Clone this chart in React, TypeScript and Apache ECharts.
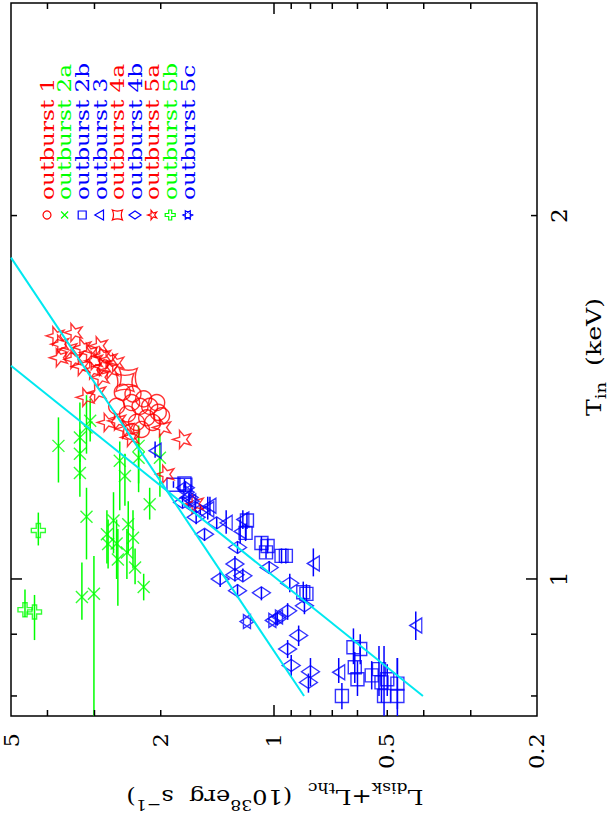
import React, { useEffect, useRef } from "react";
import * as echarts from "echarts";

// ---------- axes ----------
const L_RANGE = [0.2, 5]; // L_disk+L_thc (1e38 erg/s), horizontal, decreasing to the right
const T_RANGE = [0.77, 3]; // T_in (keV), vertical
const L_MINOR_TICKS = [0.3, 0.4, 0.5, 0.6, 0.7, 0.8, 0.9, 2, 3, 4];
const L_MAJOR_TICKS = [1];
const L_TICK_LABELS = [5, 2, 1, 0.5, 0.2];
const T_MINOR_TICKS = [0.8, 0.9, 2];
const T_MAJOR_TICKS = [1];
const T_TICK_LABELS = [1, 2];

// ---------- data: [L, T_in] ----------
const OB1 = [
  [2.53, 1.428], [2.37, 1.423], [2.22, 1.41], [2.39, 1.4], [2.27, 1.39], [2.14, 1.39],
  [2.03, 1.374], [1.99, 1.365], [2.18, 1.36], [2.32, 1.348], [2.1, 1.348], [2.25, 1.33],
  [2.39, 1.325], [2.62, 1.39], [2.45, 1.37], [2.05, 1.4],
];
const OB2A = [
  [3.74, 1.289], [3.28, 1.31], [3.28, 1.27], [3.28, 1.224], [3.15, 1.335], [3.08, 1.352],
  [2.57, 1.253], [2.49, 1.217], [2.29, 1.289], [2.29, 1.26], [2.14, 1.153], [2.01, 1.26],
  [3.15, 1.126], [2.78, 1.089], [2.76, 1.069], [2.6, 1.038], [2.46, 1.052], [2.37, 1.082],
  [2.34, 1.022], [2.22, 0.985], [3.24, 0.966], [3.01, 0.972], [2.67, 1.118], [2.44, 1.11],
  [2.62, 1.07],
];
const OB2A_ERR = [
  [1.202, 1.361], [1.25, 1.4], [1.21, 1.33], [1.17, 1.28], [1.27, 1.42], [1.3, 1.41],
  [1.14, 1.3], [1.15, 1.27], [1.2, 1.34], [1.18, 1.32], [1.12, 1.19], [1.17, 1.32],
  [1.038, 1.19], [1.03, 1.14], [1.02, 1.12], [0.95, 1.1], [1.0, 1.1], [1.02, 1.14],
  [0.99, 1.06], [0.96, 1.01], [0.925, 1.032], [0.7, 1.045], [1.05, 1.18], [1.05, 1.16],
  [1.0, 1.12],
];
const OB2B = [
  [1.73, 1.2], [1.85, 1.197], [1.72, 1.197], [1.18, 1.118], [1.19, 1.092], [1.08, 1.071],
  [1.04, 1.065], [1.05, 1.052], [0.955, 1.045], [0.93, 1.045], [0.836, 0.975], [0.82, 0.972],
  [0.615, 0.878], [0.59, 0.875], [0.61, 0.845], [0.6, 0.826], [0.55, 0.832], [0.526, 0.842],
  [0.518, 0.821], [0.5, 0.826], [0.47, 0.819], [0.51, 0.8], [0.47, 0.8], [0.66, 0.8],
];
const OB2B_ERR = [
  [1.19, 1.21], [1.19, 1.205], [1.19, 1.205], [1.1, 1.135], [1.075, 1.11], [1.055, 1.085],
  [1.05, 1.08], [1.04, 1.065], [1.03, 1.06], [1.03, 1.06], [0.955, 0.995], [0.955, 0.99],
  [0.85, 0.91], [0.85, 0.9], [0.82, 0.87], [0.8, 0.855], [0.81, 0.855], [0.8, 0.88],
  [0.79, 0.85], [0.8, 0.85], [0.78, 0.86], [0.7, 0.88], [0.7, 0.86], [0.78, 0.82],
];
const OB3 = [
  [2.07, 1.277], [1.5, 1.142], [1.34, 1.113], [1.21, 1.12], [1.23, 1.095], [0.786, 1.03],
  [0.673, 0.837], [0.42, 0.915], [1.48, 1.15],
];
const OB3_ERR = [
  [1.26, 1.3], [1.12, 1.17], [1.09, 1.14], [1.1, 1.14], [1.07, 1.12], [1.005, 1.06],
  [0.82, 0.86], [0.89, 0.94], [1.13, 1.17],
];
const OB4A = [[2.44, 1.469], [2.49, 1.455]];
const OB4B = [
  [1.75, 1.157], [1.62, 1.146], [1.57, 1.139], [1.72, 1.19], [1.68, 1.168], [1.61, 1.125],
  [1.53, 1.089], [1.42, 1.113], [1.25, 1.062], [1.27, 1.029], [1.03, 1.022], [1.39, 1.0],
  [1.27, 1.008], [1.21, 1.006], [1.25, 0.978], [1.08, 0.974], [0.908, 0.992], [0.83, 0.95],
  [0.92, 0.941], [0.98, 0.927], [0.86, 0.898], [0.92, 0.875], [0.9, 0.848], [0.8, 0.838],
  [0.81, 0.821],
];
const OB4B_ERR = [
  [1.145, 1.17], [1.135, 1.16], [1.13, 1.15], [1.18, 1.2], [1.155, 1.18], [1.11, 1.14],
  [1.075, 1.1], [1.1, 1.125], [1.05, 1.075], [1.015, 1.045], [1.01, 1.035], [0.985, 1.015],
  [0.995, 1.02], [0.995, 1.02], [0.965, 0.99], [0.96, 0.985], [0.975, 1.01], [0.935, 0.965],
  [0.925, 0.955], [0.915, 0.94], [0.88, 0.915], [0.86, 0.89], [0.83, 0.865], [0.815, 0.86],
  [0.805, 0.835],
];
const OB5A = [
  [3.82, 1.59], [3.42, 1.6], [3.71, 1.565], [3.53, 1.55], [3.74, 1.525], [3.42, 1.52],
  [3.24, 1.555], [3.11, 1.54], [2.93, 1.56], [3.02, 1.516], [2.87, 1.53], [2.76, 1.52],
  [2.65, 1.51], [3.27, 1.5], [3.05, 1.49], [2.87, 1.5], [2.74, 1.49], [2.9, 1.469],
  [3.18, 1.414], [2.96, 1.427], [2.79, 1.348], [2.62, 1.352], [2.49, 1.331], [2.42, 1.31],
  [1.99, 1.335], [1.76, 1.305], [1.95, 1.221], [1.63, 1.154],
];
const OB5B = [[4.23, 1.097], [4.59, 0.943], [4.33, 0.939]];
const OB5B_ERR = [[1.066, 1.135], [0.93, 0.98], [0.89, 0.97]];
const OB5C = [[1.7, 1.18], [1.18, 0.922], [1.01, 0.924], [0.97, 0.93], [1.65, 1.16]];

// fitted relations (end points)
const FIT_A = [[5, 1.846], [0.832, 0.8]];
const FIT_B = [[5, 1.502], [0.402, 0.8]];

const LEGEND_NAMES = [
  "outburst 1", "outburst 2a", "outburst 2b", "outburst 3", "outburst 4a",
  "outburst 4b", "outburst 5a", "outburst 5b", "outburst 5c",
];
const RED = "#ff0000";
const GREEN = "#00ff00";
const BLUE = "#0000ff";
const CYAN = "#00e8f0";
const LEGEND_COLORS = [RED, GREEN, BLUE, BLUE, RED, BLUE, RED, GREEN, BLUE];
const LEGEND_KINDS = ["circle", "x", "rect", "tri", "concave", "diamond", "star", "cross", "hex"];

const PATHS: Record<string, string> = {
  x: "M0,0 L100,100 M100,0 L0,100",
  tri: "M0,50 L87,0 L87,100 Z",
  concave: "M0,0 Q50,22 100,0 Q78,50 100,100 Q50,78 0,100 Q22,50 0,0 Z",
  star: "M0,50 L35.4,38.2 L34.5,2.4 L56.9,31 L90.5,20.6 L70.5,50 L90.5,79.4 L56.9,69 L34.5,97.6 L35.4,61.8 Z",
  cross: "M35,0 L65,0 L65,35 L100,35 L100,65 L65,65 L65,100 L35,100 L35,65 L0,65 L0,35 L35,35 Z",
  hex: "M0,50 L75,6.7 L75,93.3 Z M100,50 L25,93.3 L25,6.7 Z",
};
Object.keys(PATHS).forEach((k) => {
  try {
    echarts.graphic.registerShape("sym_" + k, echarts.graphic.extendPath(PATHS[k], {}));
  } catch (e) {}
});

const FONT = '"DejaVu Serif", serif';

function legendSymbol(kind: string, cx: number, cy: number, color: string) {
  const st = { fill: "none", stroke: color, lineWidth: 1.2 };
  if (kind === "circle") return { type: "circle", shape: { cx, cy, r: 4 }, style: st };
  if (kind === "rect") return { type: "rect", shape: { x: cx - 4, y: cy - 4, width: 8, height: 8 }, style: st };
  if (kind === "diamond")
    return { type: "polygon", shape: { points: [[cx - 6, cy], [cx, cy - 4], [cx + 6, cy], [cx, cy + 4]] }, style: st };
  const size = kind === "x" ? 7 : 10;
  const s = size / 100;
  return {
    type: "sym_" + kind,
    x: cx - size / 2,
    y: cy - size / 2,
    scaleX: s,
    scaleY: s,
    style: { ...st, strokeNoScale: true },
  };
}

function scatter(data: number[][], symbol: any, size: any, color: string, z = 4) {
  return {
    type: "scatter",
    data,
    symbol,
    symbolSize: size,
    silent: true,
    z,
    itemStyle: { color: "rgba(0,0,0,0)", borderColor: color, borderWidth: 1.4 },
  };
}

function errBars(data: number[][], errs: number[][], color: string) {
  return {
    type: "custom",
    coordinateSystem: "cartesian2d",
    silent: true,
    z: 3,
    data: data.map((p, i) => [p[0], p[1], errs[i][0], errs[i][1]]),
    encode: { x: 0, y: 1 },
    renderItem: (_p: any, api: any) => {
      const L = api.value(0);
      const lo = Math.max(api.value(2), T_RANGE[0]);
      const hi = Math.min(api.value(3), T_RANGE[1]);
      const a = api.coord([L, lo]);
      const b = api.coord([L, hi]);
      return {
        type: "line",
        shape: { x1: a[0], y1: a[1], x2: b[0], y2: b[1] },
        style: { stroke: color, lineWidth: 1.5 },
      };
    },
  };
}

const TICK_STYLE = { stroke: "#000", lineWidth: 1.5 };

export default function App() {
  const ref = useRef<HTMLDivElement>(null);
  useEffect(() => {
    document.body.style.margin = "0";
    const chart = echarts.init(ref.current!, null, { renderer: "svg" });

    const lTicks = [
      ...L_MINOR_TICKS.map((v) => [v, T_RANGE[0], 0]),
      ...L_MAJOR_TICKS.map((v) => [v, T_RANGE[0], 1]),
    ];
    const tTicks = [
      ...T_MINOR_TICKS.map((v) => [L_RANGE[1], v, 0]),
      ...T_MAJOR_TICKS.map((v) => [L_RANGE[1], v, 1]),
    ];

    const legendGraphics: any[] = [];
    LEGEND_NAMES.forEach((name, i) => {
      const cx = 47 + i * 17.6;
      legendGraphics.push({
        type: "text",
        x: cx,
        y: 200,
        rotation: Math.PI / 2,
        scaleX: 1.22,
        style: {
          text: name,
          font: `19px ${FONT}`,
          fill: LEGEND_COLORS[i],
          align: "left",
          verticalAlign: "middle",
        },
      });
      legendGraphics.push(legendSymbol(LEGEND_KINDS[i], cx, 215, LEGEND_COLORS[i]));
    });

    const option: any = {
      animation: false,
      backgroundColor: "#ffffff",
      grid: {
        left: 11,
        top: 3,
        width: 526,
        height: 713,
        show: true,
        borderColor: "#000",
        borderWidth: 1.5,
        backgroundColor: "transparent",
      },
      xAxis: {
        type: "log",
        min: L_RANGE[0],
        max: L_RANGE[1],
        inverse: true,
        axisLine: { show: false },
        axisTick: { show: false },
        axisLabel: { show: false },
        splitLine: { show: false },
      },
      yAxis: {
        type: "log",
        min: T_RANGE[0],
        max: T_RANGE[1],
        axisLine: { show: false },
        axisTick: { show: false },
        axisLabel: { show: false },
        splitLine: { show: false },
      },
      graphic: [
        ...legendGraphics,
        {
          type: "text",
          x: 275,
          y: 797,
          rotation: Math.PI,
          scaleX: 1.15,
          style: {
            text: "{m|L}{sub|disk}{m|+L}{sub|thc}{m|  (10}{sup|38}{m|erg  s}{sup|−1}{m|)}",
            align: "center",
            verticalAlign: "middle",
            fill: "#000",
            rich: {
              m: { font: `21px ${FONT}`, lineHeight: 32, verticalAlign: "middle", fill: "#000" },
              sub: { font: `15px ${FONT}`, lineHeight: 15, verticalAlign: "bottom", fill: "#000" },
              sup: { font: `15px ${FONT}`, lineHeight: 15, verticalAlign: "top", fill: "#000" },
            },
          },
        },
        {
          type: "text",
          x: 577,
          y: 357,
          rotation: Math.PI / 2,
          scaleX: 1.2,
          style: {
            text: "{m|T}{sub|in}{m|  (keV)}",
            align: "center",
            verticalAlign: "top",
            fill: "#000",
            rich: {
              m: { font: `21px ${FONT}`, lineHeight: 32, verticalAlign: "middle", fill: "#000" },
              sub: { font: `15px ${FONT}`, lineHeight: 15, verticalAlign: "bottom", fill: "#000" },
            },
          },
        },
      ],
      series: [
        // ticks on the L axis (bottom & top)
        {
          type: "custom",
          coordinateSystem: "cartesian2d",
          silent: true,
          z: 10,
          data: lTicks,
          encode: { x: 0, y: 1 },
          renderItem: (_p: any, api: any) => {
            const v = api.value(0);
            const len = api.value(2) ? 11 : 6;
            const b = api.coord([v, T_RANGE[0]]);
            const t = api.coord([v, T_RANGE[1]]);
            return {
              type: "group",
              children: [
                { type: "line", shape: { x1: b[0], y1: b[1], x2: b[0], y2: b[1] - len }, style: TICK_STYLE },
                { type: "line", shape: { x1: t[0], y1: t[1], x2: t[0], y2: t[1] + len }, style: TICK_STYLE },
              ],
            };
          },
        },
        // ticks on the T axis (left & right)
        {
          type: "custom",
          coordinateSystem: "cartesian2d",
          silent: true,
          z: 10,
          data: tTicks,
          encode: { x: 0, y: 1 },
          renderItem: (_p: any, api: any) => {
            const v = api.value(1);
            const len = api.value(2) ? 11 : 6;
            const l = api.coord([L_RANGE[1], v]);
            const r = api.coord([L_RANGE[0], v]);
            return {
              type: "group",
              children: [
                { type: "line", shape: { x1: l[0], y1: l[1], x2: l[0] + len, y2: l[1] }, style: TICK_STYLE },
                { type: "line", shape: { x1: r[0], y1: r[1], x2: r[0] - len, y2: r[1] }, style: TICK_STYLE },
              ],
            };
          },
        },
        // L tick labels
        {
          type: "custom",
          coordinateSystem: "cartesian2d",
          silent: true,
          z: 10,
          data: L_TICK_LABELS.map((v) => [v, T_RANGE[0]]),
          encode: { x: 0, y: 1 },
          renderItem: (_p: any, api: any) => {
            const v = api.value(0);
            const b = api.coord([v, T_RANGE[0]]);
            return {
              type: "text",
              x: Math.max(b[0], 12),
              y: b[1] + 17,
              rotation: Math.PI / 2,
              scaleX: 1.08,
              style: {
                text: String(v),
                font: `21px ${FONT}`,
                lineHeight: 18,
                fill: "#000",
                align: "right",
                verticalAlign: "middle",
              },
            };
          },
        },
        // T tick labels
        {
          type: "custom",
          coordinateSystem: "cartesian2d",
          silent: true,
          z: 10,
          data: T_TICK_LABELS.map((v) => [L_RANGE[0], v]),
          encode: { x: 0, y: 1 },
          renderItem: (_p: any, api: any) => {
            const v = api.value(1);
            const r = api.coord([L_RANGE[0], v]);
            return {
              type: "text",
              x: r[0] + 11,
              y: r[1],
              rotation: Math.PI / 2,
              scaleX: 1.05,
              style: {
                text: String(v),
                font: `22px ${FONT}`,
                fill: "#000",
                align: "center",
                verticalAlign: "top",
              },
            };
          },
        },
        // data
        scatter(OB1, "circle", 16, RED),
        errBars(OB2A, OB2A_ERR, GREEN),
        scatter(OB2A, "path://" + PATHS.x, 12, GREEN),
        errBars(OB2B, OB2B_ERR, BLUE),
        scatter(OB2B, "rect", 13, BLUE),
        errBars(OB3, OB3_ERR, BLUE),
        scatter(OB3, "path://" + PATHS.tri, [12, 15], BLUE),
        scatter(OB4A, "path://" + PATHS.concave, 18, RED),
        errBars(OB4B, OB4B_ERR, BLUE),
        scatter(OB4B, "diamond", [18, 12], BLUE),
        scatter(OB5A, "path://" + PATHS.star, 18, RED),
        errBars(OB5B, OB5B_ERR, GREEN),
        scatter(OB5B, "path://" + PATHS.cross, 14, GREEN),
        scatter(OB5C, "path://" + PATHS.hex, 14, BLUE),
        {
          type: "line",
          data: FIT_A,
          symbol: "none",
          silent: true,
          z: 6,
          lineStyle: { color: CYAN, width: 2 },
        },
        {
          type: "line",
          data: FIT_B,
          symbol: "none",
          silent: true,
          z: 6,
          lineStyle: { color: CYAN, width: 2 },
        },
      ],
    };
    chart.setOption(option);
    return () => chart.dispose();
  }, []);
  return (
    <div
      ref={ref}
      style={{ position: "absolute", left: 0, top: 0, width: 609, height: 824, background: "#fff" }}
    />
  );
}
